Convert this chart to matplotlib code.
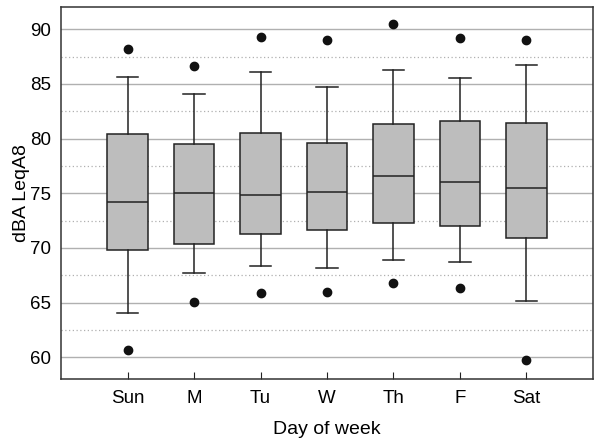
import matplotlib; matplotlib.use("Agg")
import matplotlib.pyplot as plt
from matplotlib.ticker import MultipleLocator

days = ["Sun", "M", "Tu", "W", "Th", "F", "Sat"]
whislo = [64.1, 67.7, 68.4, 68.2, 68.9, 68.7, 65.2]
q1 = [69.8, 70.4, 71.3, 71.6, 72.3, 72.0, 70.9]
med = [74.2, 75.0, 74.85, 75.1, 76.6, 76.0, 75.5]
q3 = [80.4, 79.5, 80.5, 79.6, 81.3, 81.6, 81.4]
whishi = [85.6, 84.1, 86.1, 84.7, 86.3, 85.5, 86.7]
fliers = [[88.2, 60.7], [86.6, 65.1], [89.3, 65.9], [89.0, 66.0],
          [90.5, 66.8], [89.2, 66.3], [89.05, 59.75]]

plt.rcParams["font.family"] = ["Liberation Sans", "DejaVu Sans"]
stats = [dict(label=d, whislo=a, q1=b, med=c, q3=e, whishi=f, fliers=g)
         for d, a, b, c, e, f, g in zip(days, whislo, q1, med, q3, whishi, fliers)]

fig = plt.figure(figsize=(6, 4.46), dpi=100)
ax = fig.add_axes([0.1017, 0.1496, 0.8866, 0.834])
lc = "#222222"
ax.bxp(stats, positions=range(1, 8), widths=0.61, patch_artist=True,
       boxprops=dict(facecolor="#bdbdbd", edgecolor=lc, linewidth=1.1),
       medianprops=dict(color=lc, linewidth=1.1),
       whiskerprops=dict(color=lc, linewidth=1.1),
       capprops=dict(color=lc, linewidth=1.1), capwidths=0.33,
       flierprops=dict(marker="o", markerfacecolor="#111111", markeredgecolor="#111111", markersize=6))
ax.set_xlim(0, 8); ax.set_ylim(58, 92)
ax.yaxis.set_major_locator(MultipleLocator(5)); ax.yaxis.set_minor_locator(MultipleLocator(2.5))
ax.grid(axis="y", which="major", color="#b0b0b0", linewidth=1.0)
ax.grid(axis="y", which="minor", color="#b0b0b0", linewidth=0.9, linestyle=(0, (1, 2)))
ax.set_axisbelow(True)
ax.tick_params(axis="y", which="both", length=0, labelsize=13.5, pad=7)
ax.tick_params(axis="x", direction="in", length=5, color=lc, labelsize=13.5, pad=8)
for s in ax.spines.values():
    s.set_color("#333333"); s.set_linewidth(1.1)
ax.set_xlabel("Day of week", fontsize=14, labelpad=10)
ax.set_ylabel("dBA LeqA8", fontsize=14, labelpad=0)
fig.savefig("out.png", dpi=100)
